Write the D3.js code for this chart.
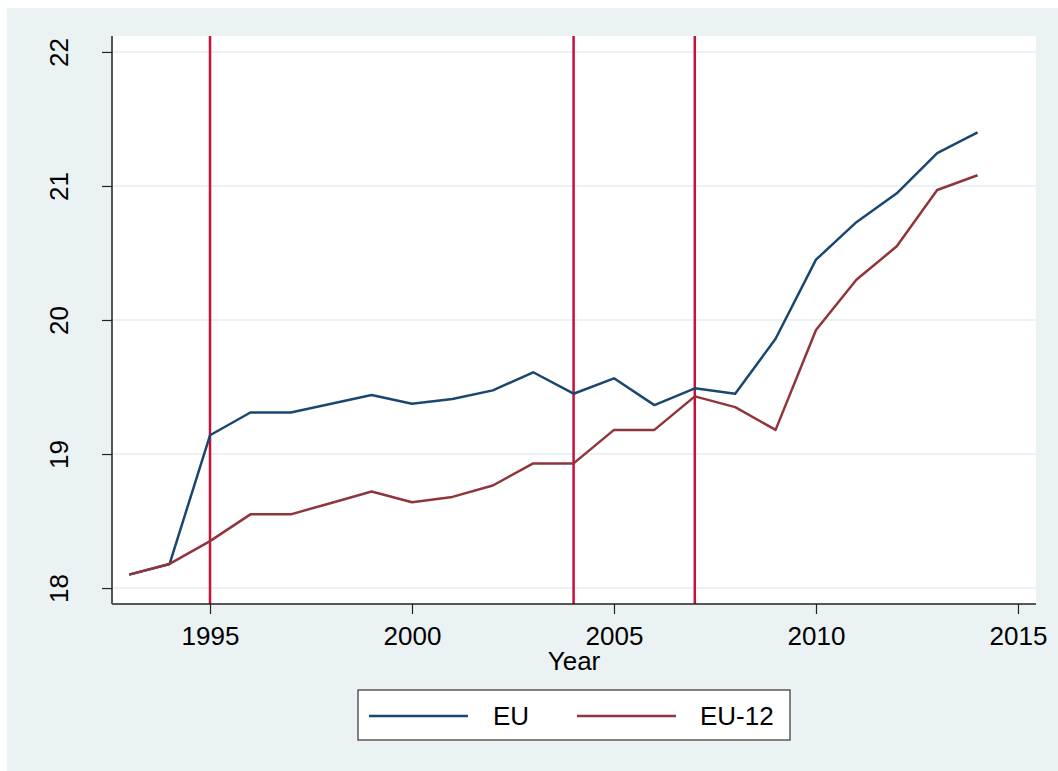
<!DOCTYPE html>
<html>
<head>
<meta charset="utf-8">
<script src="https://cdn.jsdelivr.net/npm/d3@7"></script>
<style>
  body { margin: 0; background: #fff; }
  text { font-family: "Liberation Sans", Arial, sans-serif; fill: #000; }
</style>
</head>
<body>
<div id="chart"></div>
<script>
const years = [1993, 1994, 1995, 1996, 1997, 1998, 1999, 2000, 2001, 2002, 2003,
               2004, 2005, 2006, 2007, 2008, 2009, 2010, 2011, 2012, 2013, 2014];
const eu = [18.10, 18.18, 19.14, 19.31, 19.31, 19.375, 19.44, 19.375, 19.41, 19.475, 19.61,
            19.45, 19.565, 19.365, 19.49, 19.45, 19.86, 20.45, 20.73, 20.945, 21.245, 21.40];
const eu12 = [18.10, 18.18, 18.35, 18.55, 18.55, 18.635, 18.72, 18.64, 18.68, 18.765, 18.93,
              18.93, 19.18, 19.18, 19.43, 19.35, 19.18, 19.925, 20.30, 20.55, 20.97, 21.08];
const markerYears = [1995, 2004, 2007];
const xTicks = [1995, 2000, 2005, 2010, 2015];
const yTicks = [18, 19, 20, 21, 22];
const seriesNames = ['EU', 'EU-12'];

const W = 1058, H = 771;
const plot = { left: 112, right: 1036, top: 36, bottom: 604 };
const navy = '#1a476f', maroon = '#90353b', red = '#c8103a';

const svg = d3.select('#chart')
    .append('svg')
    .attr('width', W)
    .attr('height', H);

// outer background
svg.append('rect')
    .attr('x', 7).attr('y', 8)
    .attr('width', W - 7).attr('height', H - 8)
    .attr('fill', '#eaf2f3');

// plot region
svg.append('rect')
    .attr('x', plot.left).attr('y', plot.top)
    .attr('width', plot.right - plot.left).attr('height', plot.bottom - plot.top)
    .attr('fill', '#fff');

// Scales
const xScale = d3.scaleLinear()
    .domain([1992.574, 2015.446])
    .range([plot.left, plot.right]);

const yScale = d3.scaleLinear()
    .domain([17.881, 22.119])
    .range([plot.bottom, plot.top]);

// gridlines
svg.append('g')
    .selectAll('line')
    .data(yTicks)
    .enter()
    .append('line')
    .attr('x1', plot.left).attr('x2', plot.right)
    .attr('y1', d => yScale(d)).attr('y2', d => yScale(d))
    .attr('stroke', '#eaf2f3')
    .attr('stroke-width', 2);

// vertical reference lines
svg.append('g')
    .selectAll('line')
    .data(markerYears)
    .enter()
    .append('line')
    .attr('x1', d => xScale(d)).attr('x2', d => xScale(d))
    .attr('y1', plot.top).attr('y2', plot.bottom)
    .attr('stroke', red)
    .attr('stroke-width', 2.5);

// series lines
const line = d3.line()
    .x((d, i) => xScale(years[i]))
    .y(d => yScale(d));

svg.append('path')
    .datum(eu)
    .attr('d', line)
    .attr('fill', 'none')
    .attr('stroke', navy)
    .attr('stroke-width', 2.5)
    .attr('stroke-linejoin', 'round');

svg.append('path')
    .datum(eu12)
    .attr('d', line)
    .attr('fill', 'none')
    .attr('stroke', maroon)
    .attr('stroke-width', 2.5)
    .attr('stroke-linejoin', 'round');

// Axes
const xAxis = d3.axisBottom(xScale)
    .tickValues(xTicks)
    .tickSize(10)
    .tickPadding(13)
    .tickFormat(d3.format('d'));

const gx = svg.append('g')
    .attr('transform', `translate(0, ${plot.bottom})`)
    .call(xAxis);
gx.select('.domain')
    .attr('d', `M${plot.left},0H${plot.right}`)
    .attr('stroke', '#222').attr('stroke-width', 1.5);
gx.selectAll('.tick line').attr('stroke', '#222').attr('stroke-width', 1.2);
gx.selectAll('.tick text')
    .style('font-size', '26px')
    .attr('fill', '#000');

const yAxis = d3.axisLeft(yScale)
    .tickValues(yTicks)
    .tickSize(10)
    .tickFormat(d3.format('d'));

const gy = svg.append('g')
    .attr('transform', `translate(${plot.left}, 0)`)
    .call(yAxis);
gy.select('.domain')
    .attr('d', `M0,${plot.top}V${plot.bottom}`)
    .attr('stroke', '#555').attr('stroke-width', 2);
gy.selectAll('.tick line').attr('stroke', '#222').attr('stroke-width', 1.2);
gy.selectAll('.tick text')
    .attr('x', 0).attr('y', 0).attr('dy', 0)
    .attr('transform', 'translate(-44, 0) rotate(-90)')
    .style('text-anchor', 'middle')
    .style('font-size', '26px')
    .attr('fill', '#000');

// Axis title
svg.append('text')
    .attr('x', (plot.left + plot.right) / 2)
    .attr('y', 670)
    .style('text-anchor', 'middle')
    .style('font-size', '26px')
    .text('Year');

// Legend
const legend = svg.append('g');
legend.append('rect')
    .attr('x', 358).attr('y', 690)
    .attr('width', 432).attr('height', 50)
    .attr('fill', '#fff')
    .attr('stroke', '#333')
    .attr('stroke-width', 1.2);

const legendItems = [
    { name: seriesNames[0], color: navy, x1: 369, x2: 468, tx: 493 },
    { name: seriesNames[1], color: maroon, x1: 577, x2: 676, tx: 700 }
];

legend.selectAll('line')
    .data(legendItems)
    .enter()
    .append('line')
    .attr('x1', d => d.x1).attr('x2', d => d.x2)
    .attr('y1', 716).attr('y2', 716)
    .attr('stroke', d => d.color)
    .attr('stroke-width', 2.5);

legend.selectAll('text')
    .data(legendItems)
    .enter()
    .append('text')
    .attr('x', d => d.tx)
    .attr('y', 725)
    .style('font-size', '26px')
    .text(d => d.name);
</script>
</body>
</html>
